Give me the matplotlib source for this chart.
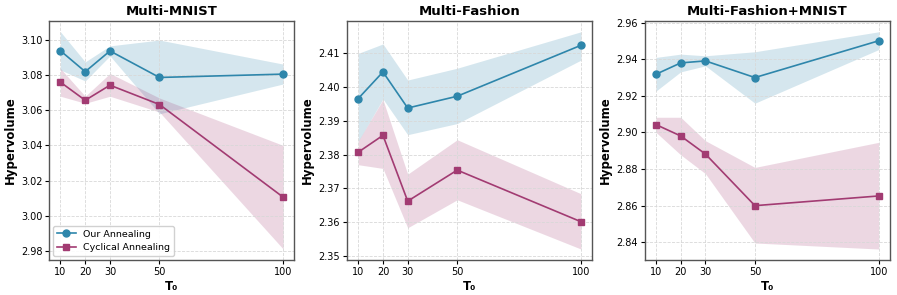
import matplotlib.pyplot as plt

t0 = [10, 20, 30, 50, 100]

# Multi-MNIST
mnist_ours = [3.0939, 3.0820, 3.0938, 3.0787, 3.0806]
mnist_ours_lo = [3.0830, 3.0767, 3.0910, 3.0580, 3.0750]
mnist_ours_hi = [3.1047, 3.0876, 3.0967, 3.1000, 3.0863]
mnist_cyc = [3.0760, 3.0657, 3.0743, 3.0633, 3.0105]
mnist_cyc_lo = [3.0680, 3.0640, 3.0680, 3.0590, 2.9810]
mnist_cyc_hi = [3.0838, 3.0680, 3.0810, 3.0670, 3.0400]

# Multi-Fashion
fashion_ours = [2.3966, 2.4045, 2.3938, 2.3973, 2.4124]
fashion_ours_lo = [2.3839, 2.3965, 2.3859, 2.3892, 2.4080]
fashion_ours_hi = [2.4100, 2.4128, 2.4021, 2.4056, 2.4164]
fashion_cyc = [2.3807, 2.3857, 2.3662, 2.3754, 2.3601]
fashion_cyc_lo = [2.3770, 2.3759, 2.3583, 2.3666, 2.3520]
fashion_cyc_hi = [2.3840, 2.3963, 2.3742, 2.3844, 2.3684]

# Multi-Fashion+MNIST
fm_ours = [2.9318, 2.9380, 2.9391, 2.9300, 2.9501]
fm_ours_lo = [2.9226, 2.9331, 2.9364, 2.9160, 2.9453]
fm_ours_hi = [2.9410, 2.9428, 2.9419, 2.9441, 2.9550]
fm_cyc = [2.9043, 2.8981, 2.8882, 2.8600, 2.8653]
fm_cyc_lo = [2.9001, 2.8878, 2.8775, 2.8396, 2.8363]
fm_cyc_hi = [2.9083, 2.9083, 2.8955, 2.8809, 2.8946]

titles = ['Multi-MNIST', 'Multi-Fashion', 'Multi-Fashion+MNIST']
panels = [
    (mnist_ours, mnist_ours_lo, mnist_ours_hi, mnist_cyc, mnist_cyc_lo, mnist_cyc_hi),
    (fashion_ours, fashion_ours_lo, fashion_ours_hi, fashion_cyc, fashion_cyc_lo, fashion_cyc_hi),
    (fm_ours, fm_ours_lo, fm_ours_hi, fm_cyc, fm_cyc_lo, fm_cyc_hi),
]

blue = '#2E86AB'
red = '#A23B72'

fig, axes = plt.subplots(1, 3, figsize=(8.97, 2.95), dpi=100)
fig.subplots_adjust(left=0.055, right=0.992, top=0.929, bottom=0.119, wspace=0.215)

for ax, title, (o, olo, ohi, c, clo, chi) in zip(axes, titles, panels):
    ax.fill_between(t0, olo, ohi, color=blue, alpha=0.2, linewidth=0)
    ax.fill_between(t0, clo, chi, color=red, alpha=0.2, linewidth=0)
    ax.plot(t0, o, marker='o', color=blue, linewidth=1.2, markersize=5, label='Our Annealing')
    ax.plot(t0, c, marker='s', color=red, linewidth=1.2, markersize=5, label='Cyclical Annealing')
    ax.set_title(title, fontsize=9.5, fontweight='bold', pad=4)
    ax.set_xlabel('T₀', fontsize=8.5, fontweight='bold', labelpad=2)
    ax.set_ylabel('Hypervolume', fontsize=8.5, fontweight='bold', labelpad=3)
    ax.set_xticks(t0)
    ax.tick_params(labelsize=7, length=3, pad=2)
    ax.grid(True, linestyle='--', color='#d8d8d8', linewidth=0.6)
    for s in ax.spines.values():
        s.set_color('#555555')
        s.set_linewidth(1.0)

axes[0].legend(loc='lower left', fontsize=6.8, framealpha=0.9, borderaxespad=0.4)

fig.savefig('out.png', dpi=100)
